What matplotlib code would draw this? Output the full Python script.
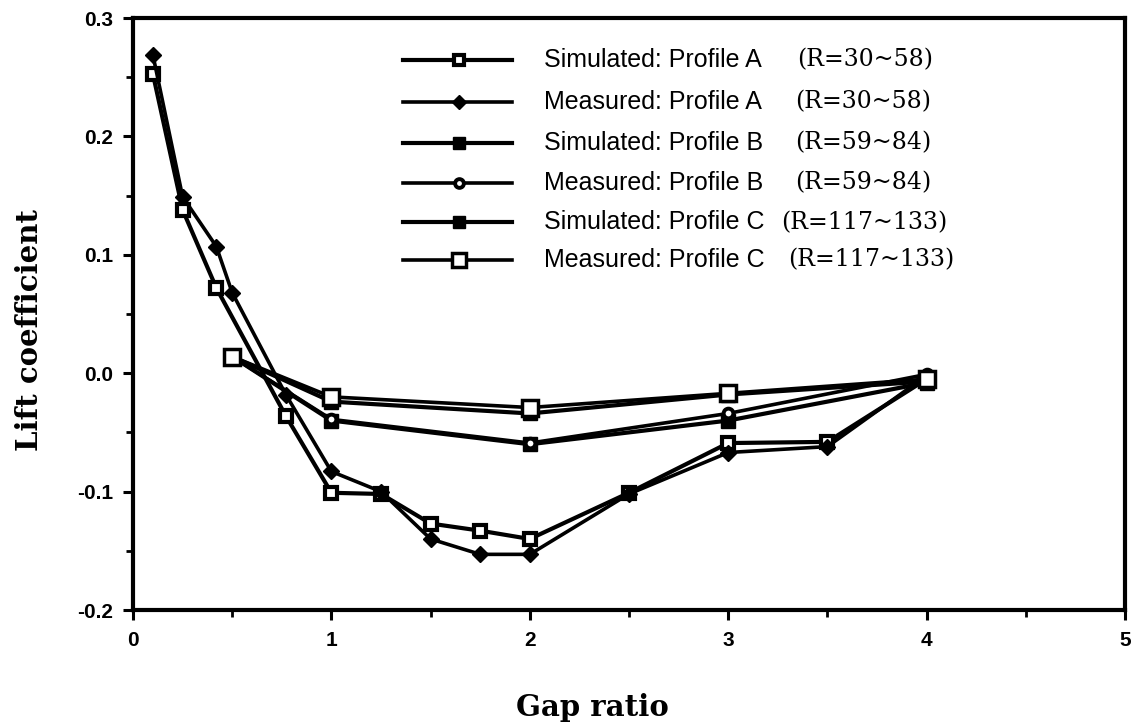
import numpy as np
import matplotlib
matplotlib.use("Agg")
import matplotlib.pyplot as plt

# ---------------------------------------------
# Data
# ---------------------------------------------
x_sim_a = [0.1, 0.25, 0.42, 0.77, 1.0, 1.25, 1.5, 1.75, 2.0, 2.5, 3.0, 3.5, 4.0]
y_sim_a = [0.253, 0.138, 0.072, -0.036, -0.101, -0.102, -0.127, -0.133, -0.140, -0.101, -0.059, -0.058, -0.005]

x_mea_a = [0.1, 0.25, 0.42, 0.5, 0.77, 1.0, 1.25, 1.5, 1.75, 2.0, 2.5, 3.0, 3.5, 4.0]
y_mea_a = [0.269, 0.149, 0.107, 0.068, -0.018, -0.083, -0.100, -0.140, -0.153, -0.153, -0.102, -0.067, -0.062, -0.002]

x_sim_b = [0.5, 1.0, 2.0, 3.0, 4.0]
y_sim_b = [0.014, -0.040, -0.060, -0.040, -0.008]

x_mea_b = [0.5, 1.0, 2.0, 3.0, 4.0]
y_mea_b = [0.014, -0.039, -0.059, -0.034, -0.001]

x_sim_c = [0.5, 1.0, 2.0, 3.0, 4.0]
y_sim_c = [0.014, -0.024, -0.034, -0.018, -0.007]

x_mea_c = [0.5, 1.0, 2.0, 3.0, 4.0]
y_mea_c = [0.014, -0.020, -0.029, -0.017, -0.005]

names = ["Simulated: Profile A", "Measured: Profile A", "Simulated: Profile B",
         "Measured: Profile B", "Simulated: Profile C", "Measured: Profile C"]
ranges = ["(R=30~58)", "(R=30~58)", "(R=59~84)", "(R=59~84)",
          "(R=117~133)", "(R=117~133)"]

xtick_labels = ["0", "1", "2", "3", "4", "5"]
ytick_labels = ["-0.2", "-0.1", "0.0", "0.1", "0.2", "0.3"]

# ---------------------------------------------
# Styles
# ---------------------------------------------
styles = [
    dict(marker="s", ms=8, mfc="white", mec="black", mew=3.0, lw=3.0),
    dict(marker="D", ms=8, mfc="black", mec="black", mew=1.0, lw=2.6),
    dict(marker="s", ms=10, mfc="black", mec="black", mew=1.0, lw=3.0),
    dict(marker="o", ms=7, mfc="white", mec="black", mew=2.8, lw=2.6),
    dict(marker="s", ms=10, mfc="black", mec="black", mew=1.0, lw=3.0),
    dict(marker="s", ms=11, mfc="white", mec="black", mew=2.5, lw=2.6),
]
series = [(x_sim_a, y_sim_a), (x_mea_a, y_mea_a), (x_sim_b, y_sim_b),
          (x_mea_b, y_mea_b), (x_sim_c, y_sim_c), (x_mea_c, y_mea_c)]

# ---------------------------------------------
# Plot
# ---------------------------------------------
fig = plt.figure(figsize=(11.41, 7.26), dpi=100)
ax = fig.add_axes([133 / 1141, 1 - 610 / 726, 992 / 1141, 592 / 726])

for (xs, ys), st in zip(series, styles):
    ax.plot(xs, ys, color="black", solid_joinstyle="miter", **st)

ax.set_xlim(0, 5)
ax.set_ylim(-0.2, 0.3)
ax.set_xticks([0, 1, 2, 3, 4, 5])
ax.set_xticks(np.arange(0.5, 5, 1.0), minor=True)
ax.set_yticks([-0.2, -0.1, 0.0, 0.1, 0.2, 0.3])
ax.set_yticks(np.arange(-0.15, 0.3, 0.1), minor=True)
tick_font = dict(family="Liberation Sans", fontweight="bold", fontsize=15)
ax.set_xticklabels(xtick_labels, **tick_font)
ax.set_yticklabels(ytick_labels, **tick_font)

for sp in ax.spines.values():
    sp.set_linewidth(3)
ax.tick_params(which="major", direction="out", length=7, width=2.2)
ax.tick_params(which="minor", direction="out", length=5, width=2.0)
ax.tick_params(axis="x", which="major", pad=8)
ax.tick_params(axis="y", which="major", pad=7)

ax.set_xlabel("Gap ratio", family="DejaVu Serif", fontsize=21, fontweight="bold")
ax.xaxis.label.set_va("center")
ax.xaxis.set_label_coords(0.463, -0.164)
ax.set_ylabel("Lift coefficient", family="DejaVu Serif", fontsize=21, fontweight="bold")
ax.yaxis.label.set_va("center")
ax.yaxis.set_label_coords(-0.104, 0.473)

# hand-made legend
row_y = [0.929, 0.858, 0.789, 0.721, 0.655, 0.591]
r_x = [0.669, 0.667, 0.667, 0.667, 0.653, 0.660]
for i, st in enumerate(styles):
    yy = row_y[i]
    ax.plot([0.272, 0.382], [yy, yy], transform=ax.transAxes, color="black",
            lw=st["lw"], clip_on=False)
    ax.plot([0.329], [yy], transform=ax.transAxes, color="black", lw=0,
            marker=st["marker"], ms=st["ms"] * 0.9, mfc=st["mfc"], mec=st["mec"],
            mew=st["mew"], clip_on=False)
    ax.text(0.414, yy, names[i], transform=ax.transAxes, family="Liberation Sans",
            fontsize=18, va="center", ha="left")
    ax.text(r_x[i], yy, ranges[i], transform=ax.transAxes, family="DejaVu Serif",
            fontsize=17, va="center", ha="left")

fig.savefig("out.png", dpi=100)
